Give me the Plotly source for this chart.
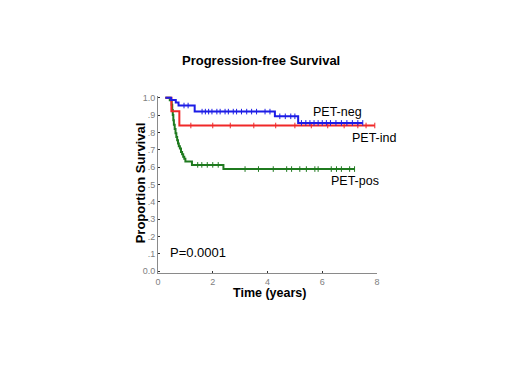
import plotly.graph_objects as go
import bisect

# ---- data ----
neg_t = [0.27, 0.48, 0.65, 0.75, 1.34, 4.27, 5.12, 7.48]
neg_s = [1.0, 0.987, 0.972, 0.955, 0.92, 0.893, 0.855, 0.855]
neg_cens = [0.95, 1.1, 1.61, 1.73, 1.85, 1.97, 2.15, 2.27, 2.45, 2.57, 2.75, 2.87,
            3.05, 3.24, 3.42, 3.6, 3.91, 4.09, 4.45, 4.65, 4.85, 5.0, 5.24, 5.4,
            5.55, 5.7, 5.85, 6.0, 6.15, 6.3, 6.5, 6.7, 6.9, 7.1, 7.3, 7.48]

ind_t = [0.27, 0.49, 0.78, 7.92]
ind_s = [1.0, 0.922, 0.84, 0.84]
ind_cens = [1.2, 2.0, 2.64, 3.5, 4.3, 5.0, 5.6, 6.2, 6.8, 7.3, 7.6, 7.92]

pos_t = [0.27, 0.43, 0.50, 0.52, 0.54, 0.56, 0.58, 0.61, 0.64, 0.67, 0.70, 0.73,
         0.76, 0.80, 0.84, 0.88, 0.92, 0.96, 1.00, 1.24, 2.39, 7.18]
pos_s = [1.0, 0.985, 0.96, 0.93, 0.90, 0.87, 0.845, 0.82, 0.795, 0.774, 0.755, 0.736,
         0.72, 0.707, 0.688, 0.675, 0.66, 0.648, 0.632, 0.613, 0.589, 0.589]
pos_cens = [1.45, 1.6, 1.8, 2.0, 2.2, 3.18, 3.67, 4.21, 4.7, 4.88, 5.18, 5.42,
            5.73, 5.85, 6.33, 6.52, 6.7, 7.0, 7.18]

x_ticks = [0, 2, 4, 6, 8]
y_ticks = [0.0, 0.1, 0.2, 0.3, 0.4, 0.5, 0.6, 0.7, 0.8, 0.9, 1.0]
y_labels = ["0.0", ".1", ".2", ".3", ".4", ".5", ".6", ".7", ".8", ".9", "1.0"]

FONT = "Liberation Sans, Arial, sans-serif"
OFF = 8  # page body margin in the browser

W, H = 520 - OFF, 390 - OFF
L, R = 157.5 - OFF, 520 - 377.5
T, B = 96 - OFF, 390 - 273.5
PW, PH = W - L - R, H - T - B


def surv_at(ts, ss, t):
    i = bisect.bisect_right(ts, t) - 1
    return ss[max(i, 0)]


fig = go.Figure()
groups = [
    (pos_t, pos_s, pos_cens, "#1f7a1f", "PET-pos"),
    (ind_t, ind_s, ind_cens, "#f02828", "PET-ind"),
    (neg_t, neg_s, neg_cens, "#1c1ce6", "PET-neg"),
]
for ts, ss, cens, col, name in groups:
    fig.add_trace(go.Scatter(x=ts, y=ss, mode="lines", line=dict(color=col, width=2, shape="hv"),
                             name=name, showlegend=False, hoverinfo="skip"))
    fig.add_trace(go.Scatter(x=cens, y=[surv_at(ts, ss, c) for c in cens], mode="markers",
                             marker=dict(symbol="line-ns-open", size=4, color=col,
                                         line=dict(color=col, width=1)),
                             showlegend=False, hoverinfo="skip"))

fig.update_layout(
    width=W, height=H,
    margin=dict(l=L, r=R, t=T, b=B, pad=0),
    paper_bgcolor="white", plot_bgcolor="white",
    font=dict(family=FONT, color="black"),
    xaxis=dict(range=[0, 8], tickvals=x_ticks, showgrid=False, zeroline=False,
               showline=True, linecolor="#8a8a8a", linewidth=1,
               ticks="inside", ticklen=2, tickcolor="#333",
               tickfont=dict(size=9, color="#808080", family=FONT)),
    yaxis=dict(range=[-0.01, 1.01], tickvals=y_ticks, ticktext=y_labels, showgrid=False,
               zeroline=False, showline=True, linecolor="#8a8a8a", linewidth=1,
               ticks="inside", ticklen=2, tickcolor="#333",
               tickfont=dict(size=9, color="#808080", family=FONT)),
)


def px(x):
    return (x - OFF - L) / PW


def py(y):
    return (H - (y - OFF) - B) / PH


ann = [
    dict(text="<b>Progression-free Survival</b>", x=260.8, y=60.7, size=13),
    dict(text="<b>Time (years)</b>", x=270, y=293.3, size=12.5),
    dict(text="PET-neg", x=338, y=111.7, size=12.5),
    dict(text="PET-ind", x=375, y=137.7, size=12.5),
    dict(text="PET-pos", x=355, y=181, size=12.5),
    dict(text="P=0.0001", x=197.5, y=253.3, size=13),
]
for a in ann:
    fig.add_annotation(text=a["text"], xref="paper", yref="paper",
                       x=px(a["x"]), y=py(a["y"]),
                       xanchor="center", yanchor="middle", showarrow=False,
                       font=dict(size=a["size"], family=FONT, color="black"))
fig.add_annotation(text="<b>Proportion Survival</b>", xref="paper", yref="paper",
                   x=px(140), y=py(183), textangle=-90,
                   xanchor="center", yanchor="middle", showarrow=False,
                   font=dict(size=13, family=FONT, color="black"))

fig.write_html("out.html")
